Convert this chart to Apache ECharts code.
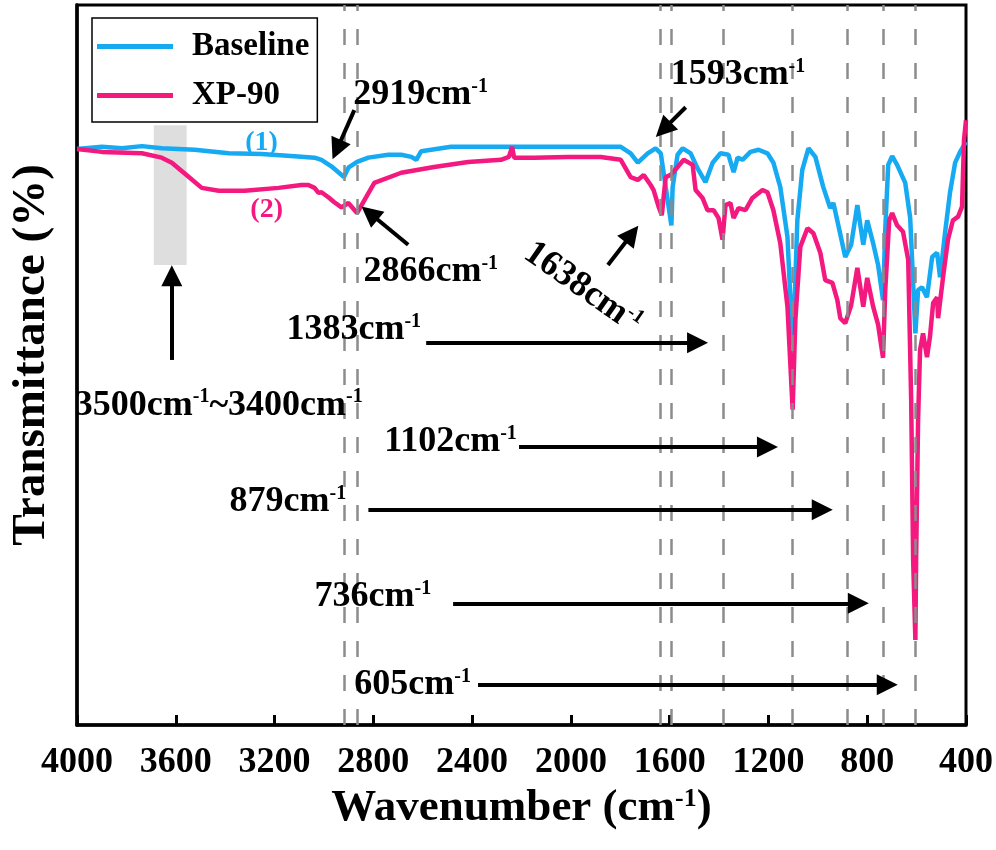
<!DOCTYPE html>
<html>
<head>
<meta charset="utf-8">
<script src="https://cdn.jsdelivr.net/npm/echarts@6/dist/echarts.min.js"></script>
<style>html,body{margin:0;background:#fff}#chart{width:996px;height:850px}</style>
</head>
<body>
<div id="chart"></div>
<script>
const FONT = '"Liberation Serif", "Times New Roman", serif';
const BLUE = '#16aaf3';
const PINK = '#f3197f';

// Baseline spectrum (1): wavenumber / transmittance
const baseWn = [4000, 3899, 3818, 3737, 3657, 3523, 3386, 3253, 3119, 3038, 3010, 2970, 2919, 2901, 2866, 2820, 2739, 2687, 2646, 2626, 2606, 2485, 2242, 2012, 1798, 1758, 1729, 1689, 1657, 1636, 1616, 1593, 1588, 1568, 1547, 1515, 1487, 1455, 1426, 1394, 1362, 1341, 1325, 1305, 1273, 1240, 1204, 1180, 1152, 1123, 1111, 1102, 1091, 1083, 1063, 1038, 1010, 978, 950, 937, 917, 889, 865, 840, 816, 800, 776, 756, 736, 727, 715, 699, 679, 646, 626, 614, 605, 594, 578, 558, 537, 517, 505, 485, 465, 444, 424, 412, 400];
const baseT = [80.0, 80.3, 80.1, 80.4, 80.1, 79.9, 79.4, 79.3, 79.0, 78.8, 78.5, 77.6, 76.1, 77.4, 78.2, 78.8, 79.2, 79.2, 78.9, 78.5, 79.7, 80.3, 80.3, 80.3, 80.3, 79.4, 78.1, 79.4, 80.1, 79.4, 74.7, 69.4, 74.7, 79.2, 80.1, 79.4, 77.3, 75.4, 78.1, 79.4, 79.2, 76.8, 78.8, 78.5, 79.6, 79.9, 79.4, 78.1, 74.7, 67.8, 59.0, 52.8, 61.8, 70.1, 77.1, 80.1, 78.9, 74.7, 71.8, 72.5, 69.4, 65.0, 66.7, 72.2, 66.7, 70.1, 66.9, 63.9, 59.0, 68.8, 77.8, 79.0, 77.8, 75.3, 70.4, 61.4, 54.4, 60.4, 60.8, 59.4, 65.0, 65.6, 62.2, 68.3, 73.9, 78.1, 79.6, 80.3, 81.0];

// XP-90 spectrum (2)
const xpWn = [4000, 3899, 3737, 3657, 3616, 3547, 3495, 3426, 3321, 3184, 3091, 3063, 3038, 3022, 3010, 2982, 2958, 2929, 2901, 2866, 2836, 2796, 2687, 2554, 2416, 2283, 2251, 2238, 2230, 2149, 2012, 1879, 1798, 1758, 1729, 1705, 1677, 1665, 1644, 1632, 1616, 1596, 1568, 1543, 1507, 1495, 1467, 1447, 1422, 1402, 1386, 1374, 1354, 1341, 1321, 1293, 1265, 1224, 1204, 1180, 1152, 1123, 1102, 1091, 1071, 1042, 1018, 990, 970, 941, 921, 909, 889, 865, 840, 816, 800, 776, 756, 736, 727, 711, 699, 679, 655, 634, 622, 614, 605, 602, 594, 586, 574, 558, 546, 533, 517, 513, 493, 473, 453, 432, 416, 408, 400];
const xpT = [80.0, 79.6, 79.4, 78.8, 78.1, 76.1, 74.6, 74.2, 74.2, 74.6, 75.0, 75.0, 74.6, 73.9, 74.0, 73.3, 72.6, 71.9, 72.5, 71.1, 72.9, 75.3, 76.7, 77.5, 78.2, 78.5, 78.9, 80.3, 78.8, 78.8, 78.9, 78.9, 78.5, 76.1, 75.7, 76.4, 75.0, 74.3, 71.9, 70.8, 76.1, 76.4, 77.5, 78.5, 77.8, 74.3, 73.2, 71.5, 71.5, 70.4, 67.4, 72.2, 72.5, 70.4, 71.8, 71.5, 73.2, 74.3, 74.0, 71.5, 66.9, 58.1, 43.8, 56.3, 66.4, 69.0, 68.3, 65.6, 61.8, 61.4, 59.0, 56.5, 55.8, 58.3, 63.5, 58.1, 62.1, 58.1, 55.6, 51.0, 60.4, 70.1, 71.1, 69.4, 68.5, 64.6, 45.1, 22.9, 11.8, 22.9, 42.4, 52.1, 54.4, 51.1, 53.9, 58.6, 59.4, 56.5, 62.2, 67.4, 70.1, 70.6, 72.0, 81.3, 84.0];

const peakWn = [2919, 2866, 1638, 1593, 1383, 1102, 879, 736, 605];
const xMin = 400, xMax = 4000, xStep = 400;

// hydroxyl band shading: [wn from, wn to, T low, T high]
const ohBand = [3689, 3556, 63.9, 83.3];

// arrows: [fromWn, fromT, toWn, toT]
const arrows = [
  [2877, 85.4, 2948, 79.9],
  [1535, 85.8, 1626, 82.7],
  [2659, 66.7, 2815, 71.1],
  [1850, 63.9, 1753, 68.2],
  [3616, 50.7, 3616, 62.4],
  [2586, 53.1, 1487, 53.1],
  [2210, 38.6, 1204, 38.6],
  [2820, 29.9, 982, 29.9],
  [2477, 16.9, 836, 16.9],
  [2376, 5.6, 719, 5.6]
];

// notes: [wn, T, text, align, rotationDeg]
const notes = [
  [2881, 87.5, '{n|2919cm}{s|-1}', 'left', 0],
  [1596, 90.3, '{n|1593cm}{s|-1}', 'left', 0],
  [2840, 62.9, '{n|2866cm}{s|-1}', 'left', 0],
  [1952, 60.7, '{n|1638cm}{s|-1}', 'center', -35],
  [3152, 54.9, '{n|1383cm}{s|-1}', 'left', 0],
  [3426, 44.4, '{n|3500cm}{s|-1}{n|~3400cm}{s|-1}', 'center', 0],
  [2756, 39.3, '{n|1102cm}{s|-1}', 'left', 0],
  [3382, 31.0, '{n|879cm}{s|-1}', 'left', 0],
  [3038, 17.8, '{n|736cm}{s|-1}', 'left', 0],
  [2877, 5.6, '{n|605cm}{s|-1}', 'left', 0]
];
const tags = [
  [3253, 80.8, '(1)', BLUE],
  [3232, 71.5, '(2)', PINK]
];

const richText = {
  n: { fontFamily: FONT, fontWeight: 'bold', fontSize: 36, color: '#000' },
  s: { fontFamily: FONT, fontWeight: 'bold', fontSize: 20, color: '#000', verticalAlign: 'top' }
};

const chart = echarts.init(document.getElementById('chart'));

const option = {
  animation: false,
  backgroundColor: '#fff',
  grid: { left: 75, right: 29, top: 5, bottom: 125, show: true, borderColor: '#000', borderWidth: 3 },
  legend: {
    data: ['Baseline', 'XP-90'],
    orient: 'vertical',
    left: 92, top: 18,
    borderColor: '#000', borderWidth: 1.5,
    padding: [12, 8, 10, 5],
    itemGap: 16,
    icon: 'rect',
    itemWidth: 76, itemHeight: 5,
    textStyle: { fontFamily: FONT, fontWeight: 'bold', fontSize: 33, color: '#000', padding: [0, 0, 0, 14] }
  },
  xAxis: {
    type: 'value', inverse: true, min: xMin, max: xMax, interval: xStep,
    name: '{n|Wavenumber (cm}{s|-1}{n|)}',
    nameLocation: 'middle', nameGap: 58,
    nameTextStyle: { rich: {
      n: { fontFamily: FONT, fontWeight: 'bold', fontSize: 45, color: '#000' },
      s: { fontFamily: FONT, fontWeight: 'bold', fontSize: 26, color: '#000', verticalAlign: 'top' }
    } },
    axisLine: { lineStyle: { color: '#000', width: 3.5 } },
    axisTick: { inside: true, length: 10, lineStyle: { color: '#000', width: 3 } },
    axisLabel: { margin: 20, fontFamily: FONT, fontWeight: 'bold', fontSize: 36, color: '#000', formatter: v => String(v) },
    splitLine: { show: false }
  },
  yAxis: {
    type: 'value', min: 0, max: 100,
    name: 'Transmittance (%)',
    nameLocation: 'middle', nameGap: 22, nameRotate: 90,
    nameTextStyle: { fontFamily: FONT, fontWeight: 'bold', fontSize: 47, color: '#000', padding: [0, 0, 0, 20] },
    axisLine: { show: true, lineStyle: { color: '#000', width: 3.5 } },
    axisTick: { show: false },
    axisLabel: { show: false },
    splitLine: { show: false }
  },
  series: [
    {
      name: 'Baseline', type: 'line', symbol: 'none', z: 3,
      lineStyle: { color: BLUE, width: 4.5 }, itemStyle: { color: BLUE },
      data: baseWn.map((w, i) => [w, baseT[i]]),
      markArea: {
        silent: true,
        itemStyle: { color: '#dedede' },
        data: [[{ coord: [ohBand[0], ohBand[2]] }, { coord: [ohBand[1], ohBand[3]] }]]
      },
      markLine: {
        silent: true, symbol: 'none', label: { show: false },
        lineStyle: { color: '#8c8c8c', width: 2.5, type: [16, 18] },
        data: peakWn.map(w => ({ xAxis: w }))
      }
    },
    {
      name: 'XP-90', type: 'line', symbol: 'none', z: 4,
      lineStyle: { color: PINK, width: 4.5 }, itemStyle: { color: PINK },
      data: xpWn.map((w, i) => [w, xpT[i]]),
      markLine: {
        silent: true, symbol: ['none', 'triangle'], symbolSize: 21,
        label: { show: false },
        itemStyle: { color: '#000' },
        lineStyle: { color: '#000', width: 4, type: 'solid' },
        data: arrows.map(a => [{ coord: [a[0], a[1]] }, { coord: [a[2], a[3]] }])
      }
    }
  ]
};
chart.setOption(option);

// text annotations placed in data coordinates
const px = (w, t) => chart.convertToPixel({ gridIndex: 0 }, [w, t]);
const graphics = notes.map(n => {
  const p = px(n[0], n[1]);
  return {
    type: 'text', x: p[0], y: p[1], rotation: n[4] * Math.PI / 180, z: 10,
    style: { text: n[2], rich: richText, align: n[3], verticalAlign: 'middle' }
  };
});
tags.forEach(t => {
  const p = px(t[0], t[1]);
  graphics.push({
    type: 'text', x: p[0], y: p[1], z: 10,
    style: { text: t[2], fill: t[3], fontFamily: FONT, fontWeight: 'bold', fontSize: 28, align: 'center', verticalAlign: 'middle' }
  });
});
chart.setOption({ graphic: graphics });
</script>
</body>
</html>
